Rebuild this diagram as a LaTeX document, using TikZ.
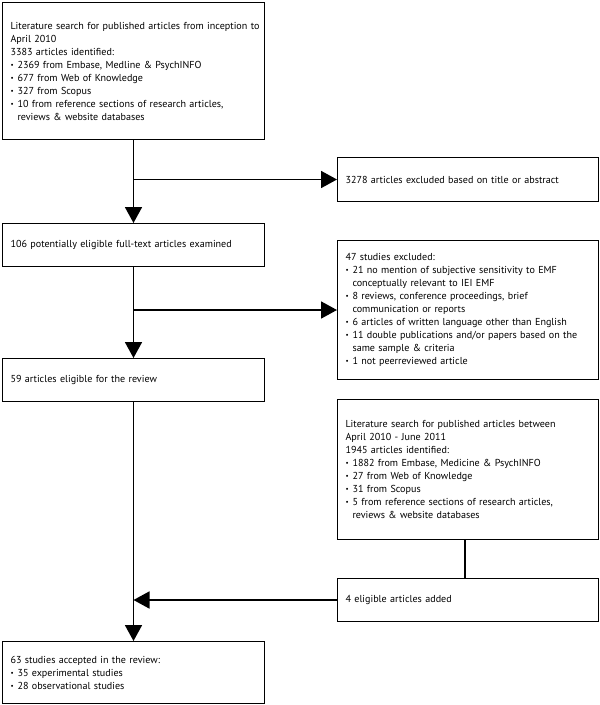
\documentclass[tikz,border=0pt]{standalone}
\usepackage{fontspec}
\setmainfont{PT Sans}
\usetikzlibrary{arrows.meta}
\newcommand{\bul}{\makebox[7pt][l]{\raisebox{0.6pt}{\scriptsize\textbullet}}}
\newcommand{\hang}{\hspace*{7pt}}
\begin{document}
\begin{tikzpicture}[x=1pt,y=-1pt,
  box/.style={draw, line width=1pt, anchor=north west, inner xsep=8pt, inner ysep=0pt,
    align=left, font=\fontsize{10.1}{13}\selectfont},
  lbox/.style={box, text width=246pt},
  rbox/.style={box, text width=245pt},
  conn/.style={line width=1.8pt},
  arr/.style={conn, -{Triangle[length=16pt,width=17pt]}}]
\useasboundingbox (0,0) rectangle (600,705);

\node[lbox, minimum height=137pt] (b1) at (2,2) {%
  \mbox{Literature search for published articles from inception to}\\
  April 2010\\
  3383 articles identified:\\
  \bul 2369 from Embase, Medline \& PsychINFO\\
  \bul 677 from Web of Knowledge\\
  \bul 327 from Scopus\\
  \bul 10 from reference sections of research articles,\\
  \hang reviews \& website databases};

\node[rbox, minimum height=44pt] (ex1) at (337,157) {3278 articles excluded based on title or abstract};

\node[lbox, minimum height=43pt] (b2) at (2,223) {106 potentially eligible full-text articles examined};

\node[rbox, minimum height=139pt] (ex2) at (337,240) {%
  47 studies excluded:\\
  \bul 21 no mention of subjective sensitivity to EMF\\
  \hang conceptually relevant to IEI EMF\\
  \bul 8 reviews, conference proceedings, brief\\
  \hang communication or reports\\
  \bul \mbox{6 articles of written language other than English}\\
  \bul \mbox{11 double publications and/or papers based on the}\\
  \hang same sample \& criteria\\
  \bul 1 not peerreviewed article};

\node[lbox, minimum height=43pt] (b3) at (2,358) {59 articles eligible for the review};

\node[rbox, minimum height=140pt] (lit) at (337,399) {%
  \mbox{Literature search for published articles between}\\
  April 2010 - June 2011\\
  1945 articles identified:\\
  \bul 1882 from Embase, Medicine \& PsychINFO\\
  \bul 27 from Web of Knowledge\\
  \bul 31 from Scopus\\
  \bul 5 from reference sections of research articles,\\
  \hang reviews \& website databases};

\node[rbox, minimum height=43pt] (add) at (337,578) {4 eligible articles added};

\node[lbox, minimum height=62pt] (fin) at (2,641) {%
  63 studies accepted in the review:\\
  \bul 35 experimental studies\\
  \bul 28 observational studies};

\draw[arr] (b1.south) -- (b2.north);
\draw[arr] (b1.south |- ex1.west) -- (ex1.west);
\draw[arr] (b2.south) -- (b3.north);
\draw[arr] (b2.south |- ex2.west) -- (ex2.west);
\draw[arr] (b3.south) -- (fin.north);
\draw[conn] ([xshift=-3pt]lit.south) -- ([xshift=-3pt]add.north);
\draw[arr] (add.west) -- (add.west -| b3.south);
\end{tikzpicture}
\end{document}
